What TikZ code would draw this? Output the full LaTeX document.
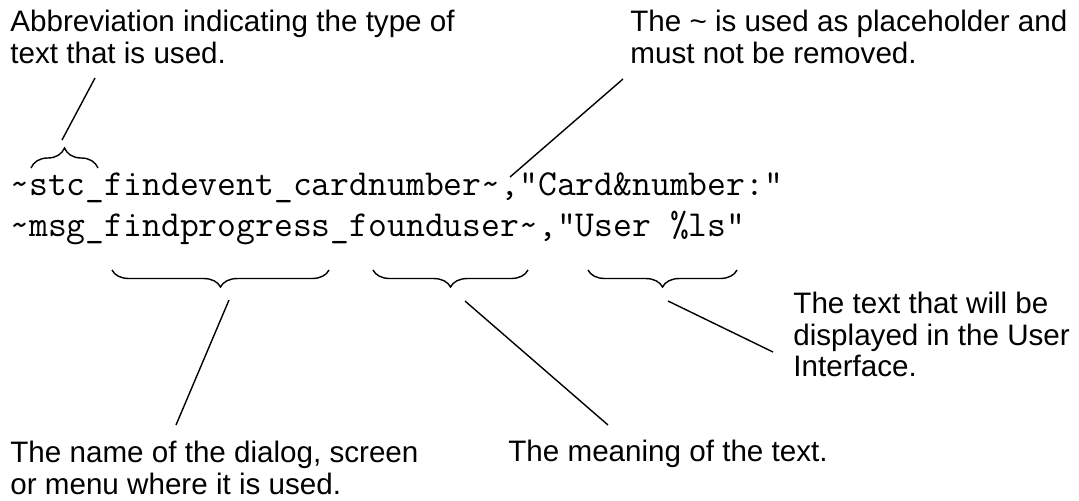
\documentclass[tikz,border=0pt]{standalone}
\usepackage{fontspec}
\setmainfont{Liberation Sans}
\usetikzlibrary{decorations.pathreplacing}

\begin{document}
\begin{tikzpicture}[x=0.5pt,y=-0.5pt,
  note/.style={anchor=north west,inner sep=0pt,align=left,font=\fontsize{14.8}{15.6}\selectfont},
  code/.style={anchor=base west,inner sep=0pt,font=\ttfamily\fontsize{18.3}{20}\selectfont},
  curly/.style={decorate,decoration={brace,amplitude=#1},line width=0.7pt},
  lead/.style={line width=0.7pt}]

\useasboundingbox (0,0) rectangle (1079,500);

% the two example lines
\node [code] (cardline) at (10,195) {\textasciitilde stc\_findevent\_cardnumber\textasciitilde,"Card\&number:"};
\node [code] (userline) at (10,236) {\textasciitilde msg\_findprogress\_founduser\textasciitilde,"User \%ls"};

% explanations
\node [note] (abbrev)  at (10,10)   {Abbreviation indicating the type of\\text that is used.};
\node [note] (tilde)   at (630,10)  {The \textasciitilde\ is used as placeholder and\\must not be removed.};
\node [note] (dialog)  at (10,441)  {The name of the dialog, screen\\or menu where it is used.};
\node [note] (meaning) at (508,440) {The meaning of the text.};
\node [note] (uitext)  at (793,292) {The text that will be\\displayed in the User\\Interface.};

% braces
\draw [curly=10pt] (31,168) -- (98,168) coordinate [midway] (stctip);
\draw [curly=8.5pt] (329,270) -- (112,270);
\draw [curly=8.5pt] (528,270) -- (373,270);
\draw [curly=8.5pt] (737,270) -- (588,270);

% leader lines
\coordinate (stcfoot)   at (62,140);
\coordinate (stchead)   at (95,78);
\coordinate (tildefoot) at (510,177);
\coordinate (tildehead) at (623,79);
\coordinate (dlgfoot)   at (229,300);
\coordinate (dlghead)   at (176,425);
\coordinate (mngfoot)   at (465,301);
\coordinate (mnghead)   at (608,425);
\coordinate (uifoot)    at (668,301);
\coordinate (uihead)    at (773,352);

\draw [lead] (stcfoot) -- (stchead);
\draw [lead] (tildefoot) -- (tildehead);
\draw [lead] (dlgfoot) -- (dlghead);
\draw [lead] (mngfoot) -- (mnghead);
\draw [lead] (uifoot) -- (uihead);

\end{tikzpicture}
\end{document}
